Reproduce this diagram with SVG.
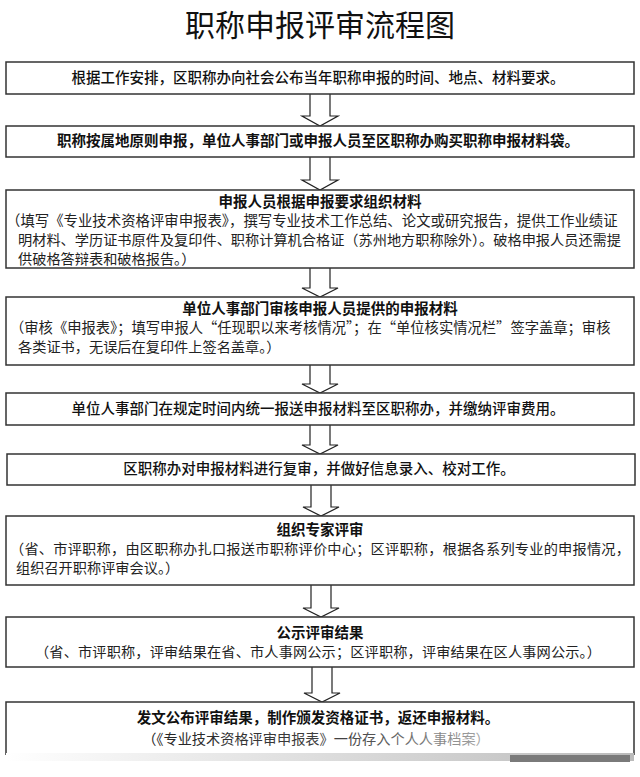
<svg xmlns="http://www.w3.org/2000/svg" width="640" height="777" viewBox="0 0 640 777">
<style>
.box{fill:#fff;stroke:#333;stroke-width:1.5}
.arr{fill:#fff;stroke:#222;stroke-width:1.2;stroke-linejoin:miter}
text{font-family:"Noto Sans CJK SC","Noto Sans CJK JP",sans-serif;fill:#111}
.ttl{font-size:30px;text-anchor:middle;font-weight:400}
.hd{font-size:14.5px;text-anchor:middle;font-weight:700}
.md{font-size:14.5px;text-anchor:middle;font-weight:500}
.bd{font-size:14.2px;font-weight:400;fill:#222}
.bc{font-size:14.2px;font-weight:400;fill:#222;text-anchor:middle}
</style>
<defs>
<linearGradient id="fade" x1="0" y1="0" x2="1" y2="0">
<stop offset="0" stop-color="#fff"/>
<stop offset="0.5" stop-color="#ddd"/>
<stop offset="1" stop-color="#bbb"/>
</linearGradient>
<linearGradient id="fadeTxt" x1="0" y1="0" x2="1" y2="0">
<stop offset="0" stop-color="#222"/>
<stop offset="0.6" stop-color="#444"/>
<stop offset="1" stop-color="#aaa"/>
</linearGradient>
</defs>
<rect width="640" height="777" fill="#fff"/>
<text class="ttl" x="320" y="36">职称申报评审流程图</text>

<g id="connectors">
<path class="arr" d="M310,94 V116 H302 L320,126 L338,116 H330 V94"/>
<path class="arr" d="M310,157 V180 H302 L320,190 L338,180 H330 V157"/>
<path class="arr" d="M310,268 V288 H302 L320,297 L338,288 H330 V268"/>
<path class="arr" d="M310,365 V384 H302 L320,393 L338,384 H330 V365"/>
<path class="arr" d="M310,425 V445 H302 L320,454 L338,445 H330 V425"/>
<path class="arr" d="M311,485 V507 H303 L321,516 L339,507 H331 V485"/>
<path class="arr" d="M311,585 V608 H303 L321,617 L339,608 H331 V585"/>
<path class="arr" d="M312,667 V693 H304 L322,702 L340,693 H332 V667"/>
</g>

<g id="n1">
<rect class="box" x="6" y="62" width="628" height="32"/>
<text class="md" x="318" y="83">根据工作安排，区职称办向社会公布当年职称申报的时间、地点、材料要求。</text>
</g>
<g id="n2">
<rect class="box" x="6" y="126" width="628" height="31"/>
<text class="hd" x="318" y="146">职称按属地原则申报，单位人事部门或申报人员至区职称办购买职称申报材料袋。</text>
</g>
<g id="n3">
<rect class="box" x="6" y="190" width="628" height="78"/>
<text class="hd" x="320" y="207">申报人员根据申报要求组织材料</text>
<text class="bd" x="6" y="226" style="font-size:14.4px">（填写《专业技术资格评审申报表》，撰写专业技术工作总结、论文或研究报告，提供工作业绩证</text>
<text class="bd" x="18" y="245">明材料、学历证书原件及复印件、职称计算机合格证（苏州地方职称除外）。破格申报人员还需提</text>
<text class="bd" x="18" y="264">供破格答辩表和破格报告。）</text>
</g>
<g id="n4">
<rect class="box" x="6" y="297" width="628" height="68"/>
<text class="hd" x="320" y="314">单位人事部门审核申报人员提供的申报材料</text>
<text class="bd" x="10" y="333" style="font-size:14.3px">（审核《申报表》；填写申报人“任现职以来考核情况”；在“单位核实情况栏”签字盖章；审核</text>
<text class="bd" x="18" y="352">各类证书，无误后在复印件上签名盖章。）</text>
</g>
<g id="n5">
<rect class="box" x="6" y="393" width="628" height="32"/>
<text class="md" x="318" y="414">单位人事部门在规定时间内统一报送申报材料至区职称办，并缴纳评审费用。</text>
</g>
<g id="n6">
<rect class="box" x="7" y="454" width="628" height="31"/>
<text class="md" x="319" y="474">区职称办对申报材料进行复审，并做好信息录入、校对工作。</text>
</g>
<g id="n7">
<rect class="box" x="6" y="516" width="628" height="69"/>
<text class="hd" x="320" y="535">组织专家评审</text>
<text class="bd" x="10" y="554" textLength="620" lengthAdjust="spacing">（省、市评职称，由区职称办扎口报送市职称评价中心；区评职称，根据各系列专业的申报情况，</text>
<text class="bd" x="16" y="573">组织召开职称评审会议。）</text>
</g>
<g id="n8">
<rect class="box" x="6" y="617" width="628" height="50"/>
<text class="hd" x="320" y="638">公示评审结果</text>
<text class="bc" x="318" y="657" textLength="566" lengthAdjust="spacing">（省、市评职称，评审结果在省、市人事网公示；区评职称，评审结果在区人事网公示。）</text>
</g>
<g id="n9">
<path d="M6,755 V702 H634 V755" fill="#fff" stroke="#333" stroke-width="1.5"/>
<text class="hd" x="318" y="723">发文公布评审结果，制作颁发资格证书，返还申报材料。</text>
<text class="bc" x="316" y="744" style="fill:url(#fadeTxt)">（《专业技术资格评审申报表》一份存入个人人事档案）</text>
</g>
<rect x="6" y="753" width="628" height="8" fill="url(#fade)"/>
<rect x="510" y="755" width="120" height="7" fill="#7a7a7a"/>
</svg>
